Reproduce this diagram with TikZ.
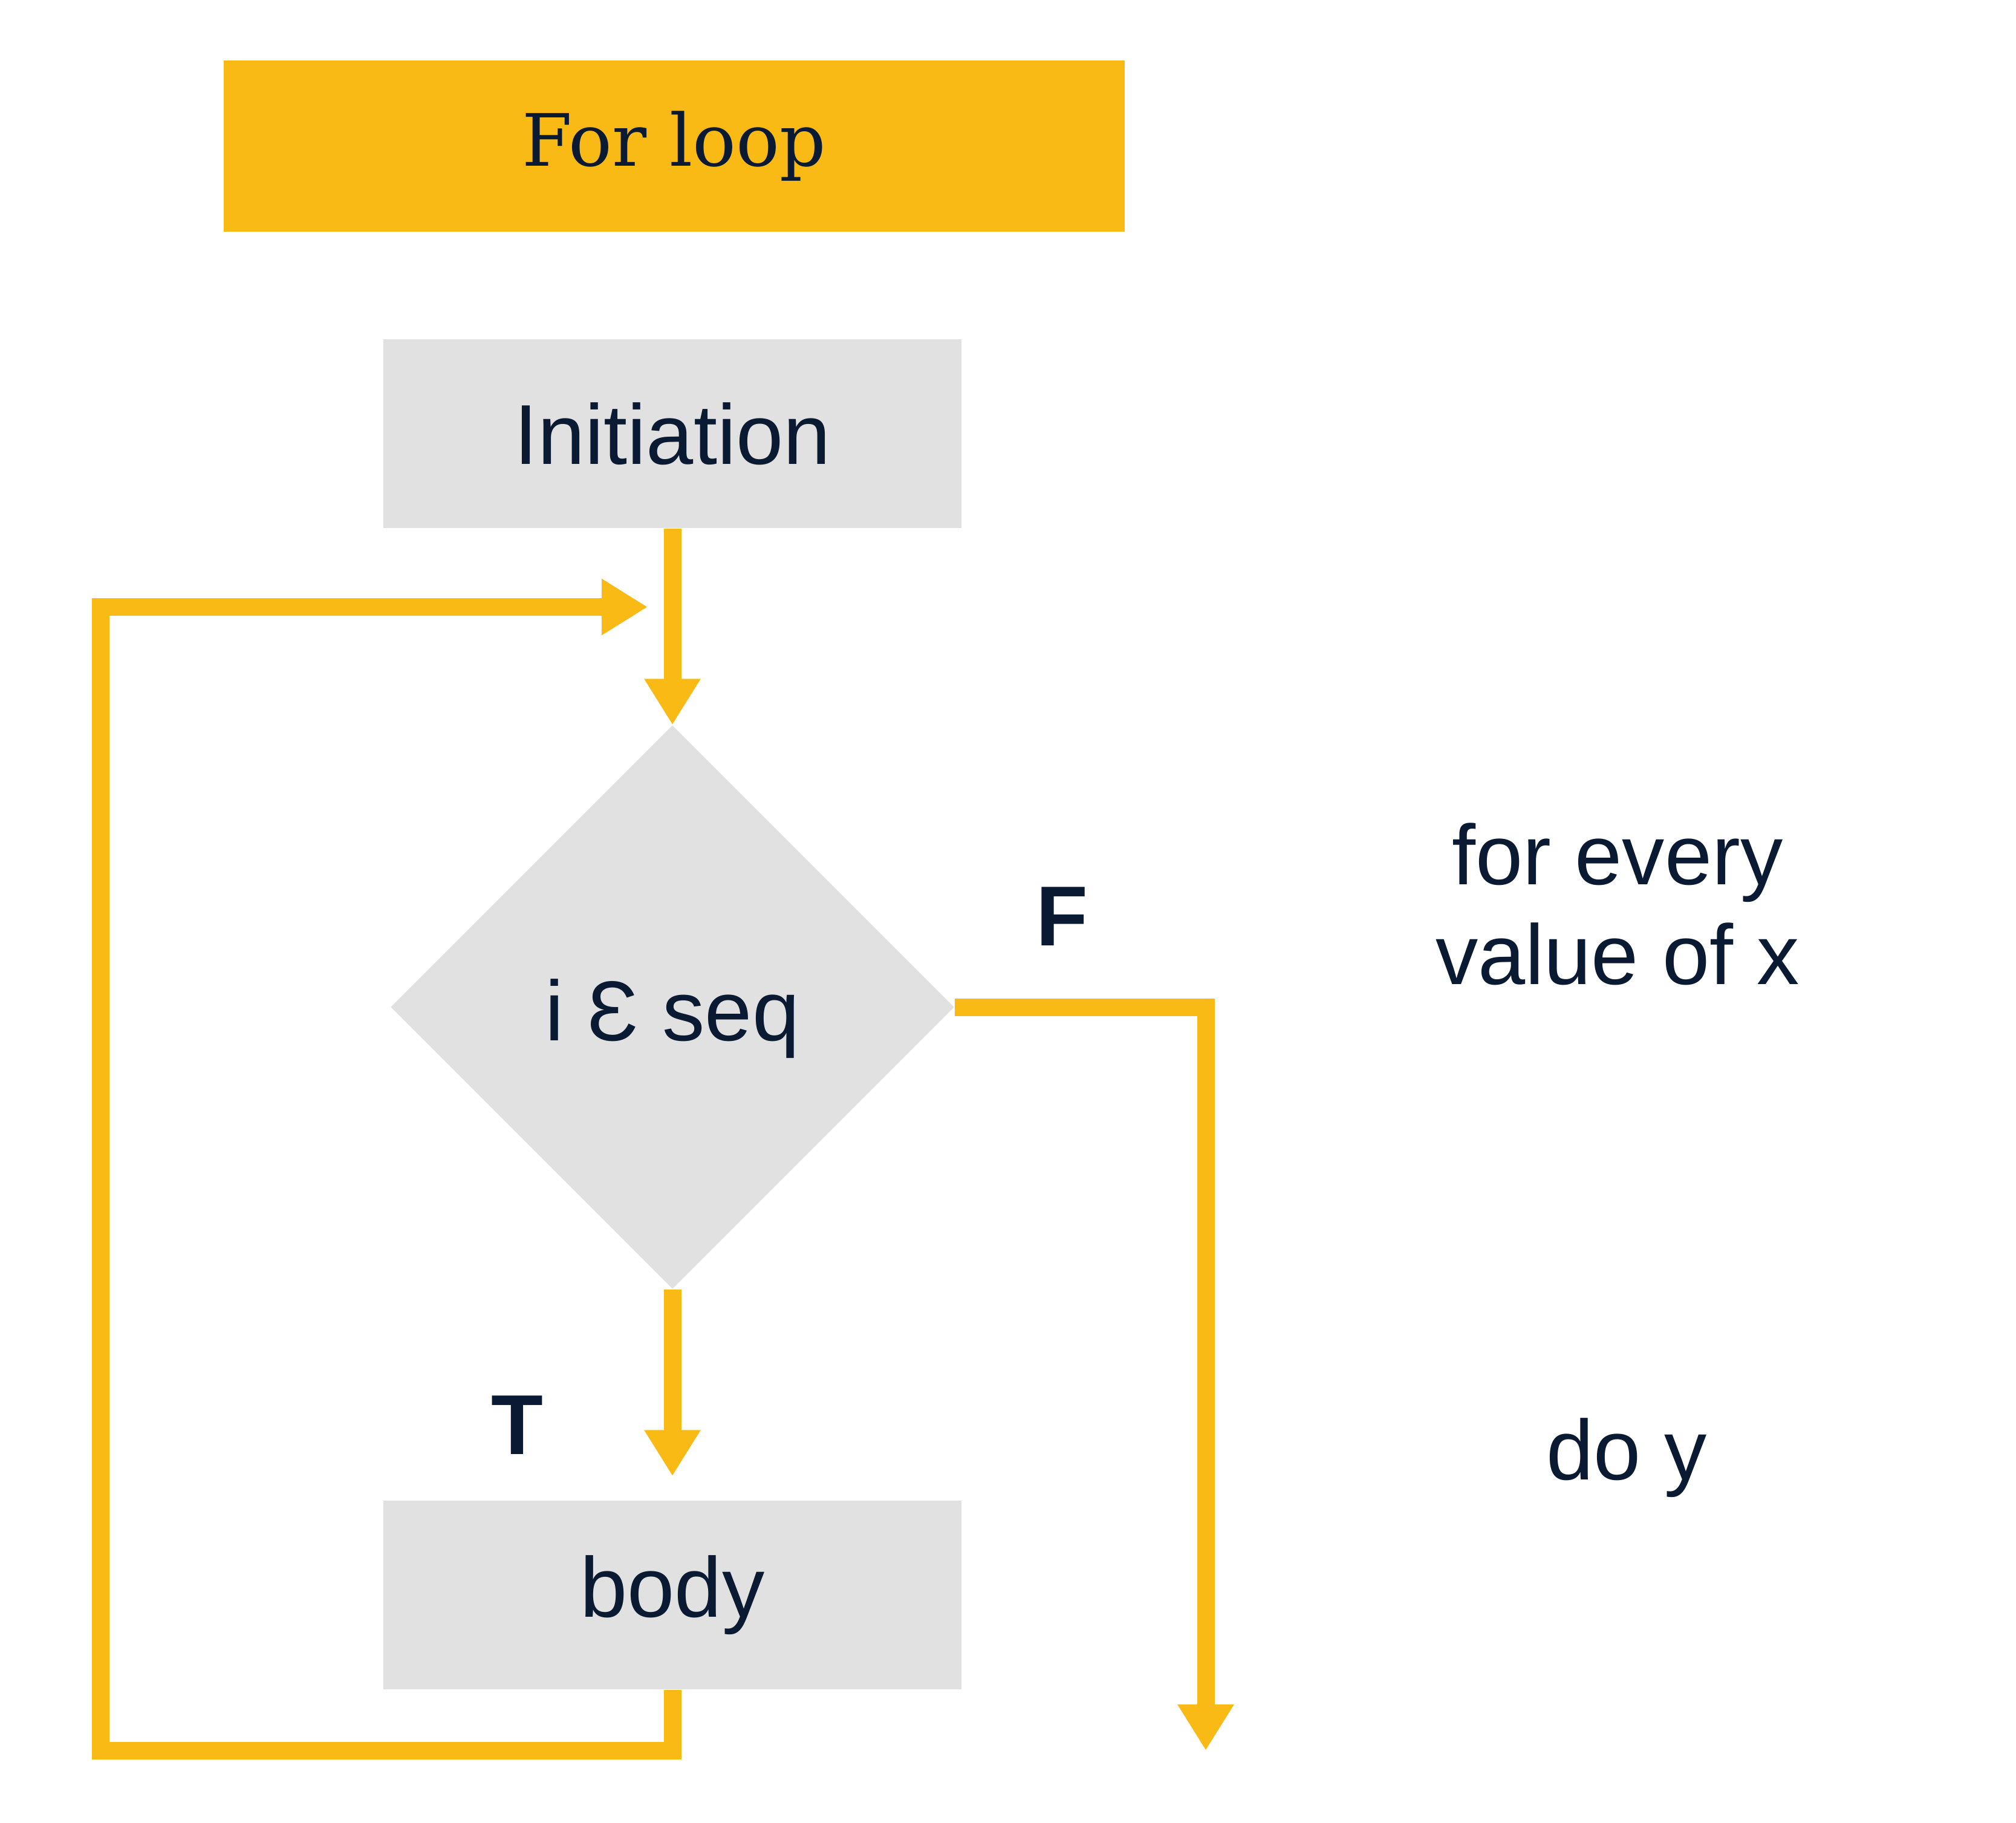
\documentclass[tikz,border=0pt]{standalone}
\usepackage{fontspec}
\setmainfont{Liberation Sans}
\newfontfamily\slabfont{DejaVu Serif}
\usepackage{tikz}
\usetikzlibrary{arrows.meta,positioning,shapes.geometric,calc}
\usepackage{xcolor}
\definecolor{loopgold}{HTML}{F9BA16}
\definecolor{loopgrey}{HTML}{E0E1E0}
\definecolor{loopink}{HTML}{0B1A33}

\begin{document}
\begin{tikzpicture}[
  txt/.style={text=loopink, font=\fontsize{40}{47}\selectfont},
  box/.style={txt, fill=loopgrey, minimum width=9.56cm, minimum height=3.12cm, inner sep=0pt},
  titlebox/.style={fill=loopgold, text=loopink, minimum width=14.9cm, minimum height=2.83cm, font=\slabfont\fontsize{34}{40}\selectfont},
  decision/.style={txt, diamond, aspect=1, fill=loopgrey, minimum width=9.32cm, minimum height=9.32cm, inner sep=0pt},
  tf/.style={txt, font=\fontsize{40}{47}\selectfont\bfseries},
  note/.style={txt, align=center},
  arr/.style={draw=loopgold, line width=0.29cm, -{Triangle[length=0.76cm, width=0.88cm]}}
]
\useasboundingbox (0,0) rectangle (33.34,-30.13);

% Boxes
\node[titlebox] (title) at (11.15,-2.415) {For loop};
\node[box] (init) at (11.12,-7.17) {Initiation};
\node[decision] (cond) at (11.12,-16.65) {\raisebox{-0.19cm}[\height][\depth]{i Ɛ seq}};
\node[box] (body) at (11.12,-26.37) {body};

% Labels
\node[tf] (flab) at (17.56,-15.15) {F};
\node[tf] (tlab) at (8.55,-23.56) {T};
\node[note] (every) at (26.75,-14.95) {for every\\value of x};
\node[note] (doy) at (26.9,-24.1) {do y};

% Corner points of the flow lines
\coordinate (loopbot) at (1.66,-28.94);
\coordinate (looptip) at (10.71,-10.035);
\coordinate (fend) at (19.94,-28.94);

% Flow
\draw[arr] (init.south) -- (cond.north);
\draw[arr, shorten >=0.4cm] (cond.south) -- (body.north);
\draw[arr] (cond.east) -| (fend);
\draw[arr] (body.south) |- (loopbot) |- (looptip);

\end{tikzpicture}
\end{document}
